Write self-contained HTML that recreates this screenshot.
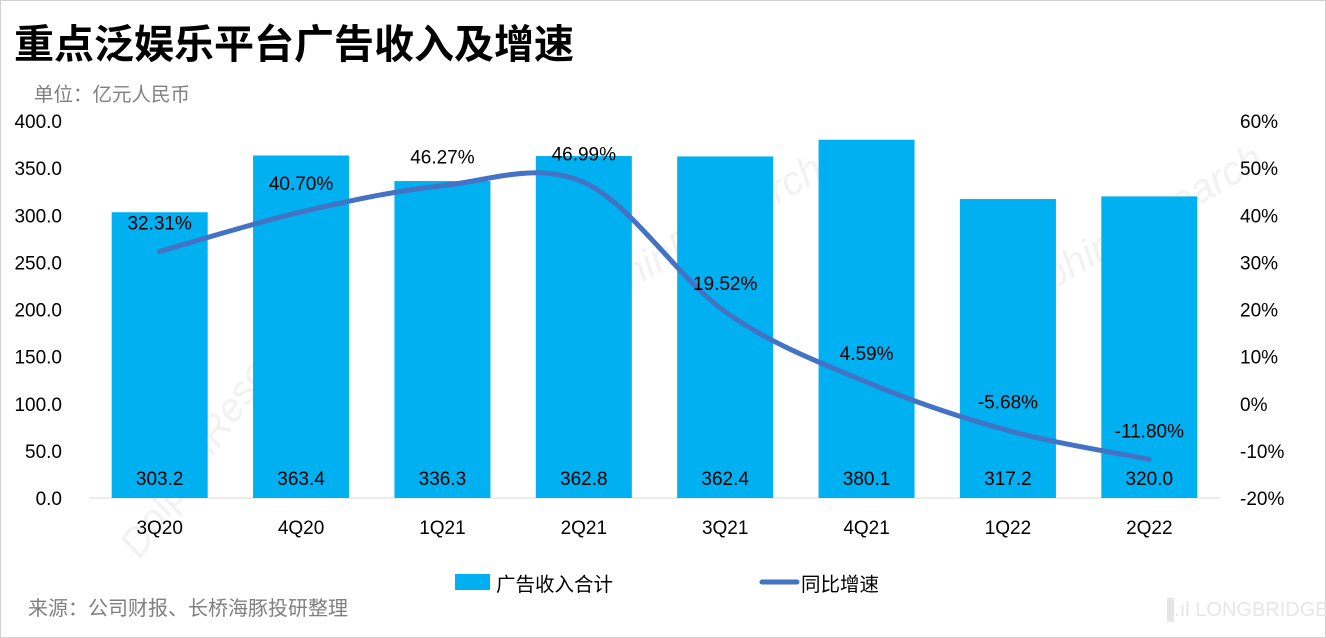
<!DOCTYPE html>
<html><head><meta charset="utf-8"><style>
body{margin:0;background:#fff;}
svg{display:block;font-family:"Liberation Sans","Noto Sans CJK SC",sans-serif;}
</style></head><body>
<svg id="c" width="1326" height="638">
<rect x="0.5" y="0.5" width="1325" height="637" fill="#fff" stroke="#d0d0d0"/>
<text x="14" y="58" font-size="40" font-weight="bold" fill="#000">重点泛娱乐平台广告收入及增速</text>
<text x="34" y="101" font-size="19.5" fill="#7f7f7f">单位：亿元人民币</text>
<g id="wm" fill="#f2f2f2" font-size="40" font-style="italic">
<text x="140" y="560" transform="rotate(-55 140 560)">DolphinResearch</text>
<text x="560" y="330" transform="rotate(-30 560 330)">DolphinResearch</text>
<text x="1000" y="320" transform="rotate(-30 1000 320)">DolphinResearch</text>
</g>
<g id="plot"></g>
<rect x="455" y="574" width="35" height="16" fill="#00B0F0"/>
<text x="496" y="591" font-size="19.5" fill="#000">广告收入合计</text>
<line x1="762" y1="582" x2="797" y2="582" stroke="#4472C4" stroke-width="5" stroke-linecap="round"/>
<text x="801" y="591" font-size="19.5" fill="#000">同比增速</text>
<text x="28" y="615" font-size="20" fill="#7f7f7f">来源：公司财报、长桥海豚投研整理</text>
<text x="1160" y="616" font-size="20" fill="#e6e6e6">▐.ıl LONGBRIDGE</text>
</svg>
<script>
const categories=["3Q20","4Q20","1Q21","2Q21","3Q21","4Q21","1Q22","2Q22"];
const revenue=[303.2,363.4,336.3,362.8,362.4,380.1,317.2,320.0];
const growth=[32.31,40.70,46.27,46.99,19.52,4.59,-5.68,-11.80];
const leftTicks=[0,50,100,150,200,250,300,350,400];
const rightTicks=[-20,-10,0,10,20,30,40,50,60];
const NS="http://www.w3.org/2000/svg";
const g=document.getElementById('plot');
const X0=89,X1=1220,YT=121,YB=498;
const band=(X1-X0)/categories.length;
const xc=i=>X0+band*(i+0.5);
const yL=v=>YB-(v/400)*(YB-YT);
const yR=v=>YB-((v+20)/80)*(YB-YT);
function mk(t,a,txt){const e=document.createElementNS(NS,t);for(const k in a)e.setAttribute(k,a[k]);if(txt!=null)e.textContent=txt;g.appendChild(e);return e;}
leftTicks.forEach(v=>{const e=mk('text',{x:62,y:yL(v)+7,'font-size':19,'text-anchor':'end',fill:'#000'},v.toFixed(1));

});
rightTicks.forEach(v=>{const e=mk('text',{x:1240,y:yR(v)+7,'font-size':19,fill:'#000'},v+'%');

});
const ax=mk('line',{x1:X0,y1:YB,x2:X1,y2:YB,stroke:'#d9d9d9','stroke-width':1});


categories.forEach((c,i)=>{
const b=mk('rect',{x:xc(i)-48,y:yL(revenue[i]),width:96,height:YB-yL(revenue[i]),fill:'#00B0F0'});


const t=mk('text',{x:xc(i),y:485,'font-size':19,'text-anchor':'middle',fill:'#000'},revenue[i].toFixed(1));


const l=mk('text',{x:xc(i),y:534,'font-size':19,'text-anchor':'middle',fill:'#000'},c);


});
const pts=growth.map((v,i)=>[xc(i),yR(v)]);
let d='M'+pts[0][0]+','+pts[0][1];
for(let i=0;i<pts.length-1;i++){const p0=pts[Math.max(0,i-1)],p1=pts[i],p2=pts[i+1],p3=pts[Math.min(pts.length-1,i+2)];
const k=1/6;
d+=' C'+(p1[0]+(p2[0]-p0[0])*k)+','+(p1[1]+(p2[1]-p0[1])*k)+' '+(p2[0]-(p3[0]-p1[0])*k)+','+(p2[1]-(p3[1]-p1[1])*k)+' '+p2[0]+','+p2[1];}
const ln=mk('path',{d:d,fill:'none',stroke:'#4472C4','stroke-width':5,'stroke-linecap':'round'});


growth.forEach((v,i)=>{const t=mk('text',{x:xc(i),y:yR(v)-22,'font-size':19,'text-anchor':'middle',fill:'#000'},v.toFixed(2)+'%');

});
</script>
</body></html>
